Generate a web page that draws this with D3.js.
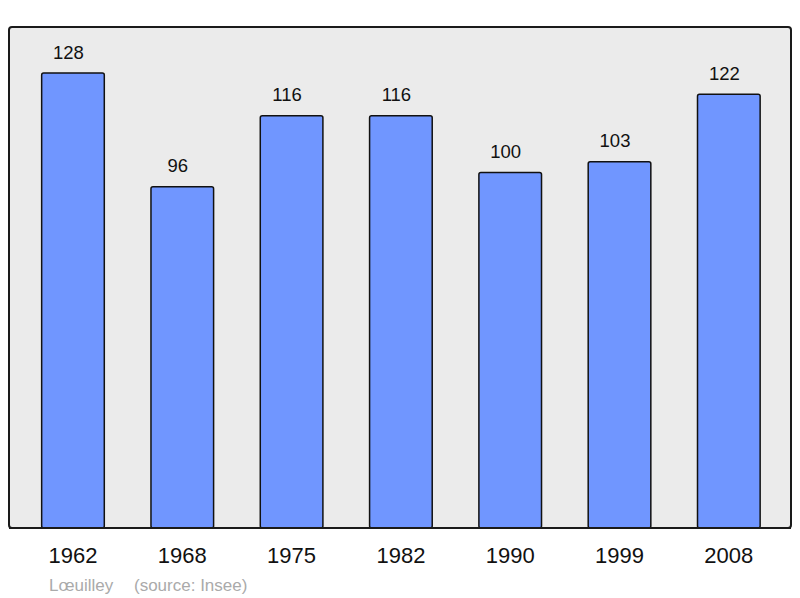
<!DOCTYPE html>
<html>
<head>
<meta charset="utf-8">
<script src="https://cdn.jsdelivr.net/npm/d3@7"></script>
<style>
  body { margin: 0; background: #fff; }
  svg { display: block; font-family: "Liberation Sans", Arial, sans-serif; }
</style>
</head>
<body>
<svg id="chart"></svg>
<script>
const years = ["1962", "1968", "1975", "1982", "1990", "1999", "2008"];
const population = [128, 96, 116, 116, 100, 103, 122];

const width = 800;
const height = 598;

const svg = d3.select("#chart")
  .attr("width", width)
  .attr("height", height);

// panel
svg.append("rect")
  .attr("x", 9)
  .attr("y", 27)
  .attr("width", 782)
  .attr("height", 501)
  .attr("rx", 3)
  .attr("fill", "#ebebeb")
  .attr("stroke", "#1a1a1a")
  .attr("stroke-width", 2);

const x = d3.scaleBand()
  .domain(years)
  .range([19.8, 782])
  .paddingInner(0.427)
  .paddingOuter(0.2);

const y = d3.scaleLinear()
  .domain([0, 128])
  .range([528, 73]);

const data = years.map((yr, i) => ({ year: yr, value: population[i] }));

svg.selectAll("rect.bar")
  .data(data)
  .join("rect")
  .attr("class", "bar")
  .attr("x", d => x(d.year))
  .attr("y", d => y(d.value))
  .attr("width", x.bandwidth())
  .attr("height", d => y(0) - y(d.value))
  .attr("rx", 2)
  .attr("fill", "#7096ff")
  .attr("stroke", "#111")
  .attr("stroke-width", 1.5);

// value labels sit a little left of the bar centre in the original
svg.selectAll("text.val")
  .data(data)
  .join("text")
  .attr("class", "val")
  .attr("x", d => x(d.year) + x.bandwidth() / 2 - 4.5)
  .attr("y", d => y(d.value) - 14.5)
  .attr("text-anchor", "middle")
  .style("font-size", "18.5px")
  .attr("fill", "#111")
  .text(d => d.value);

// redraw the bottom panel edge over the bars
svg.append("line")
  .attr("x1", 9).attr("x2", 791)
  .attr("y1", 528).attr("y2", 528)
  .attr("stroke", "#1a1a1a")
  .attr("stroke-width", 2);

const xAxis = svg.append("g")
  .attr("transform", "translate(0,528)")
  .call(d3.axisBottom(x).tickSize(0).tickPadding(0));
xAxis.select(".domain").remove();
xAxis.selectAll("text")
  .attr("dy", null)
  .attr("y", 35)
  .style("font-size", "22px")
  .style("font-family", "'Liberation Sans', Arial, sans-serif")
  .attr("fill", "#111");

svg.append("text")
  .attr("x", 49)
  .attr("y", 590.5)
  .style("font-size", "17px")
  .attr("fill", "#aaaaaa")
  .text("Lœuilley");

svg.append("text")
  .attr("x", 134)
  .attr("y", 590.5)
  .style("font-size", "17px")
  .attr("fill", "#aaaaaa")
  .text("(source: Insee)");
</script>
</body>
</html>
